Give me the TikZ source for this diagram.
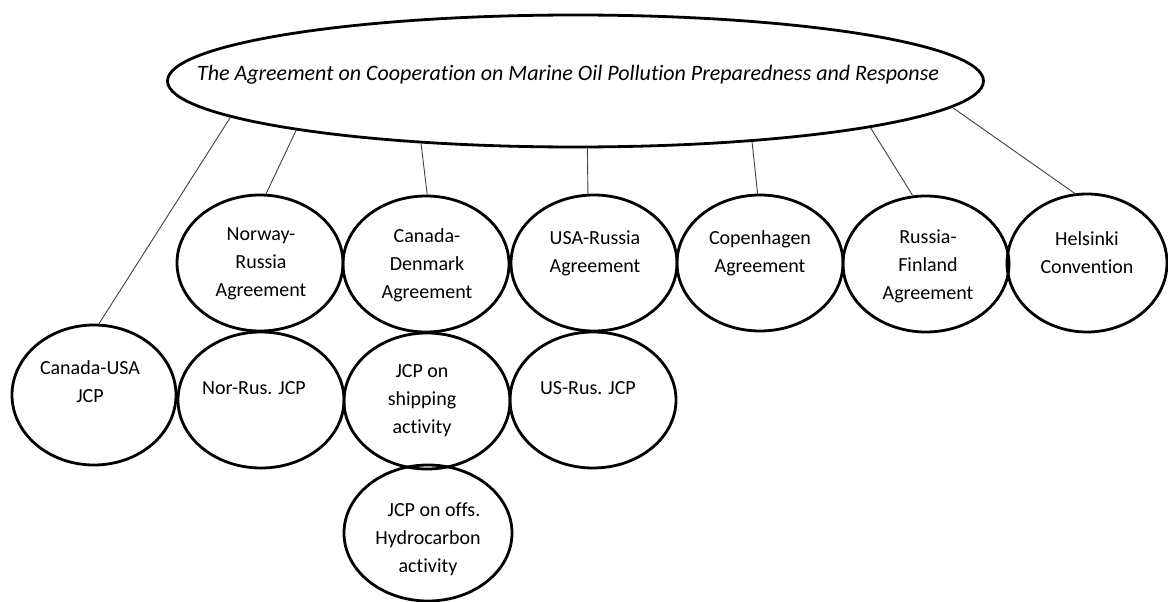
\documentclass[tikz,border=0pt]{standalone}
\usepackage{fontspec}
\setmainfont{Carlito}[Ligatures={NoCommon}]
\usetikzlibrary{shapes.geometric}
\begin{document}
\begin{tikzpicture}[x=1pt,y=-1pt,
  bub/.style={draw=black, ellipse, line width=2.8pt, inner sep=0pt,
              minimum width=166pt, minimum height=136pt},
  conn/.style={line width=0.9pt, draw=black!75},
  lbl/.style={font=\fontsize{20}{28}\selectfont, align=center, inner sep=0pt}]
\useasboundingbox (0,0) rectangle (1168,602);
% main ellipse
\node[draw=black, ellipse, line width=2.8pt, inner sep=0pt,
      minimum width=816pt, minimum height=132pt] (top) at (575.5,81) {};
\node[lbl, font=\fontsize{22}{26}\selectfont\itshape] (t-top) at (568,75)
  {The Agreement on Cooperation on Marine Oil Pollution Preparedness and Response};
% first row
\node[bub] (nr)  at (260,263) {};
\node[bub] (cd)  at (426,264) {};
\node[bub] (ur)  at (594,263) {};
\node[bub] (cop) at (760,263) {};
\node[bub] (rf)  at (926,264) {};
\node[bub, minimum width=160pt, minimum height=138pt] (hc) at (1087,263) {};
% second row
\node[bub, minimum width=164pt, minimum height=140pt] (cu) at (94,395) {};
\node[bub] (nrj)  at (261,400) {};
\node[bub] (ship) at (427,401) {};
\node[bub] (urj)  at (593,400) {};
% third row
\node[bub, minimum width=168pt] (offs) at (428,533) {};
% texts
\node[lbl] (t-nr)   at (261,264) {Norway-\\Russia\\Agreement};
\node[lbl] (t-cd)   at (427,265) {Canada-\\Denmark\\Agreement};
\node[lbl] (t-ur)   at (595,253) {USA-Russia\\Agreement};
\node[lbl] (t-cop)  at (760,253) {Copenhagen\\Agreement};
\node[lbl] (t-rf)   at (928,266) {Russia-\\Finland\\Agreement};
\node[lbl] (t-hc)   at (1087,253) {Helsinki\\Convention};
\node[lbl] (t-cu)   at (90,382) {Canada-USA\\JCP};
\node[lbl] (t-nrj)  at (254,388) {Nor-Rus. JCP};
\node[lbl] (t-ship) at (422,401) {JCP on\\shipping\\activity};
\node[lbl] (t-urj)  at (588,388) {US-Rus. JCP};
\node[lbl] (t-offs) at (428,539) {\hspace*{12pt}JCP on offs.\\Hydrocarbon\\activity};
% connectors
\draw[conn] (top.186.8) -- (cu.86.7);
\draw[conn] (top.190.2) -- (nr.85.8);
\draw[conn] (top.202.5) -- (cd.89.2);
\draw[conn] (top.280.7) -- (ur.95);
\draw[conn] (top.341.5) -- (cop.92.5);
\draw[conn] (top.351.2) -- (rf.101.8);
\draw[conn] (top.356.0) -- (hc.100.7);
\end{tikzpicture}
\end{document}
